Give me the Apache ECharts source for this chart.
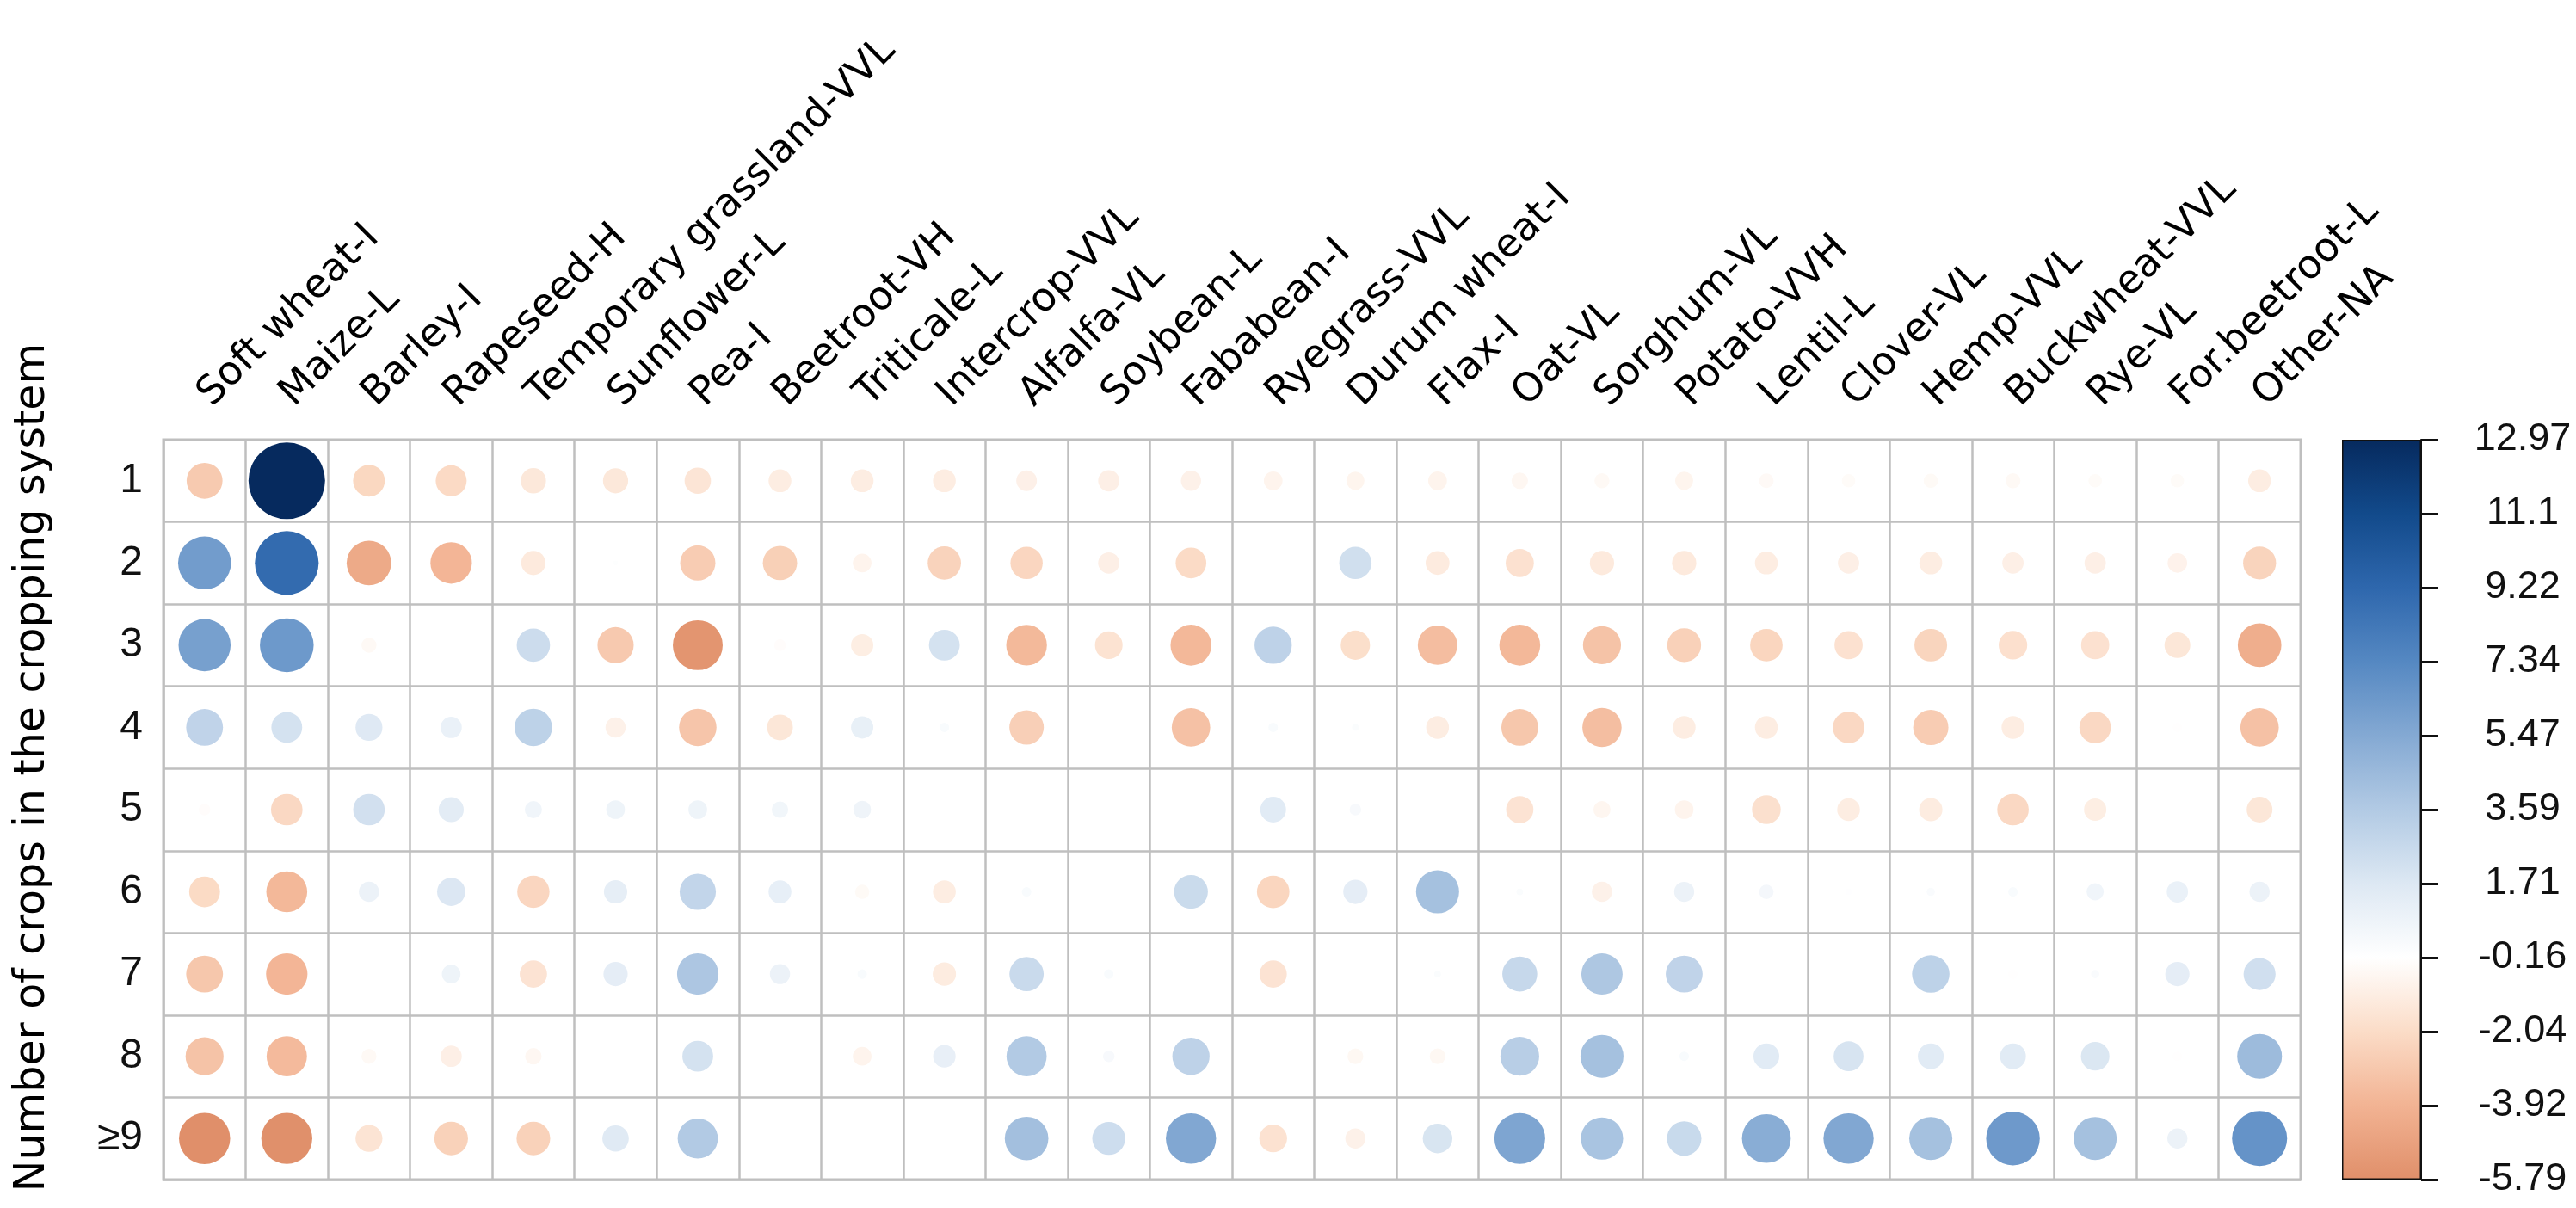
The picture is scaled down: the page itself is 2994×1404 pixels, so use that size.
<!DOCTYPE html>
<html>
<head>
<meta charset="utf-8">
<script src="https://cdn.jsdelivr.net/npm/echarts@6/dist/echarts.min.js"></script>
<style>
  html, body { margin: 0; padding: 0; background: #ffffff; }
  #main { width: 2994px; height: 1404px; }
</style>
</head>
<body>
<div id="main"></div>
<script>
// ---------------- DATA ----------------
const columnLabels = ['Soft wheat-I', 'Maize-L', 'Barley-I', 'Rapeseed-H', 'Temporary grassland-VVL',
  'Sunflower-L', 'Pea-I', 'Beetroot-VH', 'Triticale-L', 'Intercrop-VVL', 'Alfalfa-VL', 'Soybean-L',
  'Fababean-I', 'Ryegrass-VVL', 'Durum wheat-I', 'Flax-I', 'Oat-VL', 'Sorghum-VL', 'Potato-VVH',
  'Lentil-L', 'Clover-VL', 'Hemp-VVL', 'Buckwheat-VVL', 'Rye-VL', 'For.beetroot-L', 'Other-NA'];

const rowLabels = ['1', '2', '3', '4', '5', '6', '7', '8', '\u22659'];

const row1 = [-2.85, 12.97, -2.24, -2.12, -1.41, -1.40, -1.54, -1.15, -1.15, -1.15, -0.94, -1.00, -0.90,
  -0.77, -0.72, -0.77, -0.60, -0.50, -0.72, -0.47, -0.40, -0.45, -0.50, -0.40, -0.40, -1.15];
const row2 = [6.20, 9.00, -4.40, -3.80, -1.30, -0.05, -2.75, -2.60, -0.77, -2.45, -2.30, -1.00, -2.08,
  0, 2.30, -1.25, -1.75, -1.30, -1.30, -1.15, -1.00, -1.15, -1.00, -1.00, -0.84, -2.40];
const row3 = [6.00, 6.40, -0.50, 0, 2.45, -2.90, -5.50, -0.30, -1.10, 2.10, -3.66, -1.68, -3.70,
  3.07, -1.90, -3.46, -3.70, -3.20, -2.53, -2.33, -1.75, -2.36, -1.80, -1.75, -1.47, -4.20];
const row4 = [3.00, 2.10, 1.60, 1.00, 3.10, -0.90, -3.10, -1.47, 1.10, 0.20, -2.62, 0, -3.27,
  0.20, 0.10, -1.15, -3.00, -3.40, -1.15, -1.15, -2.20, -2.75, -1.15, -2.20, -0.20, -3.27];
const row5 = [-0.30, -2.20, 2.20, 1.40, 0.65, 0.77, 0.77, 0.60, 0.70, 0, -0.15, 0, 0,
  1.47, 0.30, 0, -1.65, -0.65, -0.77, -1.82, -1.15, -1.20, -2.20, -1.10, 0, -1.47];
const row6 = [-2.10, -3.70, 0.90, 1.75, -2.30, 1.20, 2.90, 1.15, -0.45, -1.15, 0.20, -0.15, 2.53,
  -2.33, 1.30, 4.10, 0.10, -0.90, 0.89, 0.46, -0.10, 0.15, 0.20, 0.65, 1.00, 0.90];
const row7 = [-3.00, -3.80, 0, 0.77, -1.65, 1.30, 3.80, 0.90, 0.20, -1.20, 2.60, 0.20, 0,
  -1.65, 0, 0.10, 2.70, 3.77, 3.00, 0, 0, 3.10, -0.20, 0.15, 1.30, 2.27];
const row8 = [-3.20, -3.60, -0.50, -1.00, -0.60, -0.16, 2.10, 0, -0.77, 1.12, 3.57, 0.30, 3.07,
  0, -0.55, -0.55, 3.34, 4.10, 0.20, 1.47, 1.97, 1.47, 1.47, 1.80, -0.20, 4.43];
const row9 = [-5.79, -5.75, -1.60, -2.50, -2.50, 1.54, 3.57, 0, 0, 0, 4.20, 2.40, 5.57,
  -1.70, -0.89, 1.93, 5.70, 3.95, 2.62, 5.26, 5.57, 4.10, 6.36, 4.10, 0.89, 6.70];

const colorbarTickLabels = ['-5.79', '-3.92', '-2.04', '-0.16', '1.71', '3.59', '5.47', '7.34', '9.22', '11.1', '12.97'];
const valueMin = -5.79;
const valueMax = 12.97;

// ---------------- STYLE ----------------
const palette = ['#E08F6A', '#F2B393', '#FBDCC7', '#FFFFFF', '#DDE8F3', '#B2CAE4',
  '#84A9D3', '#5588C2', '#2E67AD', '#124A8B', '#062A5E'];
const gridColor = '#BFBFBF';
const maxDiameter = 89;

// ---------------- BUILD ----------------
const rows = [row1, row2, row3, row4, row5, row6, row7, row8, row9];
const points = [];
rows.forEach((r, yi) => r.forEach((v, xi) => { if (v !== 0) points.push([xi, yi, v]); }));
const absMax = Math.max(Math.abs(valueMin), Math.abs(valueMax));

const chart = echarts.init(document.getElementById('main'), null, { renderer: 'canvas' });

const option = {
  backgroundColor: '#ffffff',
  animation: false,
  grid: [
    { left: 190, top: 511, width: 2484, height: 860, show: true, borderColor: gridColor, borderWidth: 3, backgroundColor: 'transparent' },
    { left: 2722, top: 511, width: 92, height: 860, show: false }
  ],
  xAxis: [
    {
      gridIndex: 0, type: 'category', data: columnLabels, position: 'top',
      axisLine: { show: false }, axisTick: { show: false },
      splitLine: { show: true, interval: 0, lineStyle: { color: gridColor, width: 2.5 } },
      axisLabel: { interval: 0, rotate: -45, margin: 46, fontSize: 46, fontFamily: 'DejaVu Sans', color: '#000' }
    },
    {
      gridIndex: 1, type: 'category', data: [''], show: false
    }
  ],
  yAxis: [
    {
      gridIndex: 0, type: 'category', data: rowLabels, inverse: true,
      axisLine: { show: false }, axisTick: { show: false },
      splitLine: { show: true, interval: 0, lineStyle: { color: gridColor, width: 2.5 } },
      axisLabel: { interval: 0, margin: 24, fontSize: 48, fontFamily: 'Liberation Sans', color: '#111' }
    },
    {
      gridIndex: 1, type: 'value', min: 0, max: 10, interval: 1, position: 'right',
      axisLine: { show: true, lineStyle: { color: '#111', width: 2 } },
      axisTick: { show: true, length: 20, lineStyle: { color: '#111', width: 3 } },
      splitLine: { show: false },
      axisLabel: {
        margin: 118, align: 'center', fontSize: 45, fontFamily: 'Liberation Sans', color: '#111',
        formatter: (v) => colorbarTickLabels[Math.round(v)]
      }
    }
  ],
  visualMap: [{
    type: 'continuous', show: false, seriesIndex: 0, dimension: 2,
    min: valueMin, max: valueMax, inRange: { color: palette }
  }],
  series: [
    {
      type: 'scatter', xAxisIndex: 0, yAxisIndex: 0, data: points, silent: true,
      symbol: 'circle',
      symbolSize: (val) => maxDiameter * Math.sqrt(Math.abs(val[2]) / absMax),
      itemStyle: { opacity: 1 }
    },
    {
      type: 'bar', xAxisIndex: 1, yAxisIndex: 1, data: [10], barWidth: '100%', silent: true,
      itemStyle: {
        color: new echarts.graphic.LinearGradient(0, 1, 0, 0,
          palette.map((c, i) => ({ offset: i / (palette.length - 1), color: c }))),
        borderColor: '#111', borderWidth: 1.5
      }
    }
  ],
  graphic: [{
    type: 'text', x: 38, y: 892, rotation: Math.PI / 2,
    style: {
      text: 'Number of crops in the cropping system',
      font: '49px "DejaVu Sans"', fill: '#000',
      textAlign: 'center', textVerticalAlign: 'middle'
    }
  }]
};
chart.setOption(option);
</script>
</body>
</html>
